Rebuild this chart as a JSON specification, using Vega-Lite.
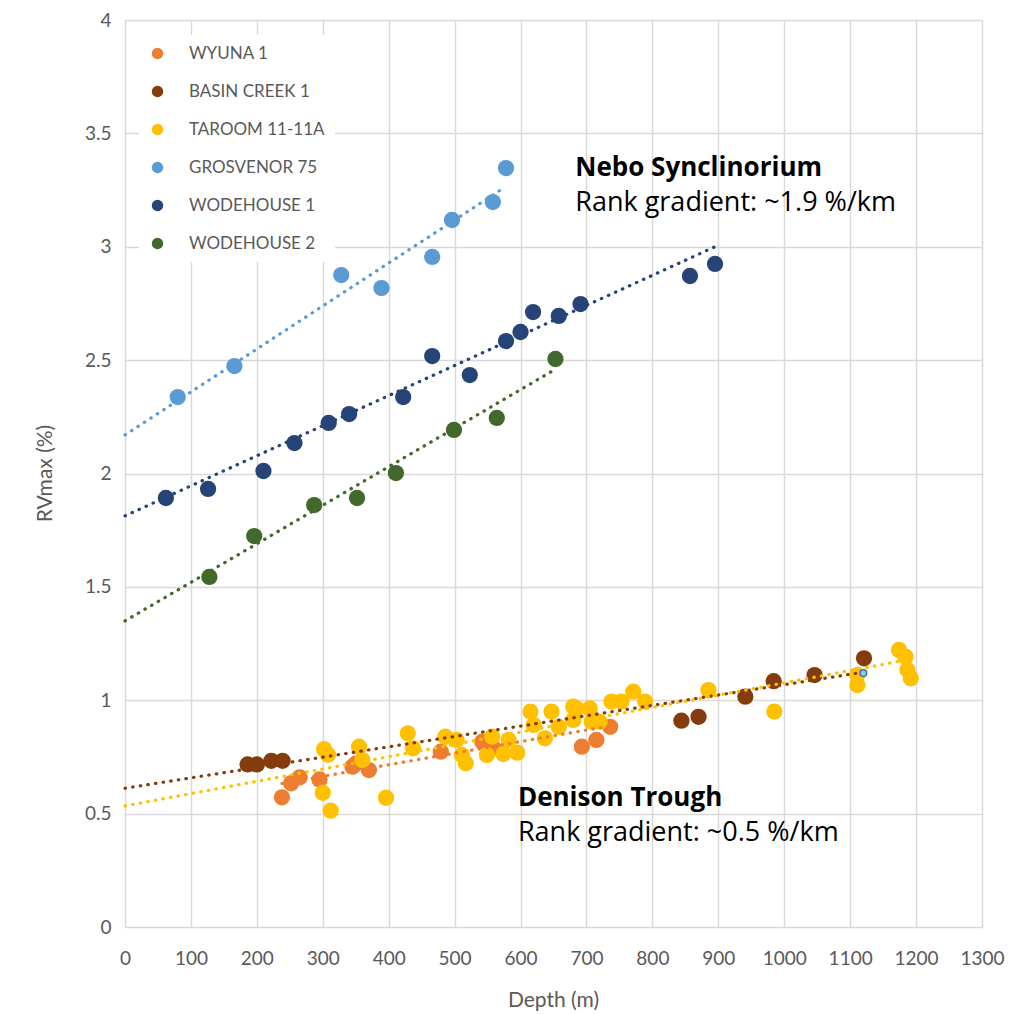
{
  "$schema": "https://vega.github.io/schema/vega-lite/v6.json",
  "width": 857,
  "height": 907,
  "autosize": "none",
  "padding": {"left": 125, "top": 20, "right": 44, "bottom": 87},
  "background": "white",
  "config": {
    "view": {"stroke": null},
    "font": "Lato",
    "axis": {"labelFont": "Lato", "titleFont": "Lato", "labelColor": "#595959", "titleColor": "#595959", "gridColor": "#D9D9D9", "gridWidth": 1.5, "domain": false, "ticks": false, "labelOverlap": false, "labelFlush": false}
  },
  "datasets": {
    "pts": [
      {"series": "WYUNA 1", "depth": 238, "rv": 0.572},
      {"series": "WYUNA 1", "depth": 252, "rv": 0.634},
      {"series": "WYUNA 1", "depth": 265, "rv": 0.66},
      {"series": "WYUNA 1", "depth": 295, "rv": 0.651},
      {"series": "WYUNA 1", "depth": 345, "rv": 0.707},
      {"series": "WYUNA 1", "depth": 350, "rv": 0.72},
      {"series": "WYUNA 1", "depth": 370, "rv": 0.692},
      {"series": "WYUNA 1", "depth": 479, "rv": 0.773},
      {"series": "WYUNA 1", "depth": 542, "rv": 0.817},
      {"series": "WYUNA 1", "depth": 559, "rv": 0.79},
      {"series": "WYUNA 1", "depth": 693, "rv": 0.795},
      {"series": "WYUNA 1", "depth": 715, "rv": 0.825},
      {"series": "WYUNA 1", "depth": 736, "rv": 0.883},
      {"series": "BASIN CREEK 1", "depth": 186, "rv": 0.717},
      {"series": "BASIN CREEK 1", "depth": 200, "rv": 0.717},
      {"series": "BASIN CREEK 1", "depth": 222, "rv": 0.733},
      {"series": "BASIN CREEK 1", "depth": 239, "rv": 0.733},
      {"series": "BASIN CREEK 1", "depth": 844, "rv": 0.91},
      {"series": "BASIN CREEK 1", "depth": 870, "rv": 0.927},
      {"series": "BASIN CREEK 1", "depth": 941, "rv": 1.016},
      {"series": "BASIN CREEK 1", "depth": 984, "rv": 1.084},
      {"series": "BASIN CREEK 1", "depth": 1046, "rv": 1.111},
      {"series": "BASIN CREEK 1", "depth": 1121, "rv": 1.185},
      {"series": "TAROOM 11-11A", "depth": 300, "rv": 0.592},
      {"series": "TAROOM 11-11A", "depth": 302, "rv": 0.784},
      {"series": "TAROOM 11-11A", "depth": 308, "rv": 0.76},
      {"series": "TAROOM 11-11A", "depth": 312, "rv": 0.513},
      {"series": "TAROOM 11-11A", "depth": 355, "rv": 0.795},
      {"series": "TAROOM 11-11A", "depth": 360, "rv": 0.736},
      {"series": "TAROOM 11-11A", "depth": 396, "rv": 0.57},
      {"series": "TAROOM 11-11A", "depth": 429, "rv": 0.854},
      {"series": "TAROOM 11-11A", "depth": 437, "rv": 0.788},
      {"series": "TAROOM 11-11A", "depth": 486, "rv": 0.839},
      {"series": "TAROOM 11-11A", "depth": 503, "rv": 0.825},
      {"series": "TAROOM 11-11A", "depth": 511, "rv": 0.759},
      {"series": "TAROOM 11-11A", "depth": 517, "rv": 0.722},
      {"series": "TAROOM 11-11A", "depth": 549, "rv": 0.759},
      {"series": "TAROOM 11-11A", "depth": 557, "rv": 0.839},
      {"series": "TAROOM 11-11A", "depth": 574, "rv": 0.763},
      {"series": "TAROOM 11-11A", "depth": 582, "rv": 0.825},
      {"series": "TAROOM 11-11A", "depth": 595, "rv": 0.769},
      {"series": "TAROOM 11-11A", "depth": 615, "rv": 0.95},
      {"series": "TAROOM 11-11A", "depth": 620, "rv": 0.891},
      {"series": "TAROOM 11-11A", "depth": 637, "rv": 0.832},
      {"series": "TAROOM 11-11A", "depth": 647, "rv": 0.95},
      {"series": "TAROOM 11-11A", "depth": 658, "rv": 0.883},
      {"series": "TAROOM 11-11A", "depth": 680, "rv": 0.972},
      {"series": "TAROOM 11-11A", "depth": 685, "rv": 0.964},
      {"series": "TAROOM 11-11A", "depth": 680, "rv": 0.913},
      {"series": "TAROOM 11-11A", "depth": 705, "rv": 0.964},
      {"series": "TAROOM 11-11A", "depth": 708, "rv": 0.905},
      {"series": "TAROOM 11-11A", "depth": 720, "rv": 0.905},
      {"series": "TAROOM 11-11A", "depth": 738, "rv": 0.994},
      {"series": "TAROOM 11-11A", "depth": 753, "rv": 0.994},
      {"series": "TAROOM 11-11A", "depth": 771, "rv": 1.038},
      {"series": "TAROOM 11-11A", "depth": 789, "rv": 0.994},
      {"series": "TAROOM 11-11A", "depth": 885, "rv": 1.045},
      {"series": "TAROOM 11-11A", "depth": 985, "rv": 0.95},
      {"series": "TAROOM 11-11A", "depth": 1111, "rv": 1.111},
      {"series": "TAROOM 11-11A", "depth": 1111, "rv": 1.067},
      {"series": "TAROOM 11-11A", "depth": 1174, "rv": 1.222},
      {"series": "TAROOM 11-11A", "depth": 1184, "rv": 1.192},
      {"series": "TAROOM 11-11A", "depth": 1187, "rv": 1.133},
      {"series": "TAROOM 11-11A", "depth": 1192, "rv": 1.097},
      {"series": "GROSVENOR 75", "depth": 80, "rv": 2.337},
      {"series": "GROSVENOR 75", "depth": 166, "rv": 2.474},
      {"series": "GROSVENOR 75", "depth": 328, "rv": 2.875},
      {"series": "GROSVENOR 75", "depth": 389, "rv": 2.818},
      {"series": "GROSVENOR 75", "depth": 466, "rv": 2.955},
      {"series": "GROSVENOR 75", "depth": 496, "rv": 3.118},
      {"series": "GROSVENOR 75", "depth": 558, "rv": 3.197},
      {"series": "GROSVENOR 75", "depth": 578, "rv": 3.347},
      {"series": "WODEHOUSE 1", "depth": 62, "rv": 1.892},
      {"series": "WODEHOUSE 1", "depth": 126, "rv": 1.932},
      {"series": "WODEHOUSE 1", "depth": 210, "rv": 2.011},
      {"series": "WODEHOUSE 1", "depth": 257, "rv": 2.134},
      {"series": "WODEHOUSE 1", "depth": 309, "rv": 2.223},
      {"series": "WODEHOUSE 1", "depth": 340, "rv": 2.262},
      {"series": "WODEHOUSE 1", "depth": 422, "rv": 2.337},
      {"series": "WODEHOUSE 1", "depth": 466, "rv": 2.518},
      {"series": "WODEHOUSE 1", "depth": 523, "rv": 2.434},
      {"series": "WODEHOUSE 1", "depth": 578, "rv": 2.584},
      {"series": "WODEHOUSE 1", "depth": 600, "rv": 2.624},
      {"series": "WODEHOUSE 1", "depth": 619, "rv": 2.712},
      {"series": "WODEHOUSE 1", "depth": 658, "rv": 2.695},
      {"series": "WODEHOUSE 1", "depth": 691, "rv": 2.747},
      {"series": "WODEHOUSE 1", "depth": 857, "rv": 2.871},
      {"series": "WODEHOUSE 1", "depth": 895, "rv": 2.924},
      {"series": "WODEHOUSE 2", "depth": 128, "rv": 1.544},
      {"series": "WODEHOUSE 2", "depth": 196, "rv": 1.724},
      {"series": "WODEHOUSE 2", "depth": 287, "rv": 1.861},
      {"series": "WODEHOUSE 2", "depth": 352, "rv": 1.892},
      {"series": "WODEHOUSE 2", "depth": 411, "rv": 2.002},
      {"series": "WODEHOUSE 2", "depth": 499, "rv": 2.192},
      {"series": "WODEHOUSE 2", "depth": 564, "rv": 2.245},
      {"series": "WODEHOUSE 2", "depth": 653, "rv": 2.505}
    ],
    "trend": [
      {"series": "WYUNA 1", "depth": 238, "rv": 0.633},
      {"series": "WYUNA 1", "depth": 736, "rv": 0.887},
      {"series": "BASIN CREEK 1", "depth": 0, "rv": 0.612},
      {"series": "BASIN CREEK 1", "depth": 1121, "rv": 1.124},
      {"series": "TAROOM 11-11A", "depth": 0, "rv": 0.534},
      {"series": "TAROOM 11-11A", "depth": 1192, "rv": 1.181},
      {"series": "GROSVENOR 75", "depth": 0, "rv": 2.17},
      {"series": "GROSVENOR 75", "depth": 575, "rv": 3.26},
      {"series": "WODEHOUSE 1", "depth": 0, "rv": 1.813},
      {"series": "WODEHOUSE 1", "depth": 895, "rv": 3.0},
      {"series": "WODEHOUSE 2", "depth": 0, "rv": 1.35},
      {"series": "WODEHOUSE 2", "depth": 653, "rv": 2.46}
    ],
    "marker": [
      {"depth": 1120, "rv": 1.12}
    ]
  },
  "layer": [
    {
      "data": {"name": "pts"},
      "mark": {"type": "circle", "size": 265, "opacity": 1},
      "encoding": {
        "x": {"field": "depth", "type": "quantitative", "scale": {"domain": [0, 1300], "nice": false}, "axis": {"values": [0,100,200,300,400,500,600,700,800,900,1000,1100,1200,1300], "format": "d", "labelFontSize": 19, "labelPadding": 22, "title": "Depth (m)", "titleFontSize": 21, "titleFontWeight": "normal", "titleX": 428, "titleY": 73, "titleBaseline": "middle"}},
        "y": {"field": "rv", "type": "quantitative", "scale": {"domain": [0, 4], "nice": false}, "axis": {"values": [0,0.5,1,1.5,2,2.5,3,3.5,4], "format": "~g", "labelFontSize": 19, "labelPadding": 14, "title": "RVmax (%)", "titleFontSize": 21, "titleFontWeight": "normal", "titleX": -80, "titleY": 453, "titleBaseline": "middle"}},
        "color": {"field": "series", "type": "nominal", "sort": null,
          "scale": {"domain": ["WYUNA 1", "BASIN CREEK 1", "TAROOM 11-11A", "GROSVENOR 75", "WODEHOUSE 1", "WODEHOUSE 2"], "range": ["#ED7D31", "#843C0C", "#FFC000", "#5B9BD5", "#264478", "#43682B"]},
          "legend": {"title": null, "orient": "none", "legendX": 14, "legendY": 15, "fillColor": "white", "padding": 10, "labelFont": "Lato", "labelFontSize": 17, "labelColor": "#595959", "symbolType": "circle", "symbolSize": 130, "labelOffset": 23, "rowPadding": 20, "symbolStrokeWidth": 0}}
      }
    },
    {
      "data": {"name": "trend"},
      "mark": {"type": "line", "strokeWidth": 3.2, "strokeDash": [0.5, 7.2], "strokeCap": "round"},
      "encoding": {
        "x": {"field": "depth", "type": "quantitative"},
        "y": {"field": "rv", "type": "quantitative"},
        "detail": {"field": "series", "type": "nominal"},
        "stroke": {"field": "series", "type": "nominal", "legend": null,
          "scale": {"domain": ["WYUNA 1", "BASIN CREEK 1", "TAROOM 11-11A", "GROSVENOR 75", "WODEHOUSE 1", "WODEHOUSE 2"], "range": ["#ED7D31", "#843C0C", "#FFC000", "#5B9BD5", "#264478", "#43682B"]}}
      }
    },
    {
      "data": {"name": "marker"},
      "mark": {"type": "point", "filled": true, "size": 45, "fill": "#9DC3E6", "stroke": "#2E75B6", "strokeWidth": 1.5, "opacity": 1},
      "encoding": {
        "x": {"field": "depth", "type": "quantitative"},
        "y": {"field": "rv", "type": "quantitative"}
      }
    },
    {
      "data": {"values": [{}]},
      "mark": {"type": "text", "align": "left", "baseline": "middle", "font": "Open Sans", "fontSize": 26, "fontWeight": "bold", "color": "black"},
      "encoding": {"x": {"datum": 683}, "y": {"datum": 3.347}, "text": {"value": "Nebo Synclinorium"}}
    },
    {
      "data": {"values": [{}]},
      "mark": {"type": "text", "align": "left", "baseline": "middle", "font": "Open Sans", "fontSize": 27, "color": "black"},
      "encoding": {"x": {"datum": 683}, "y": {"datum": 3.193}, "text": {"value": "Rank gradient: ~1.9 %/km"}}
    },
    {
      "data": {"values": [{}]},
      "mark": {"type": "text", "align": "left", "baseline": "middle", "font": "Open Sans", "fontSize": 26, "fontWeight": "bold", "color": "black"},
      "encoding": {"x": {"datum": 596}, "y": {"datum": 0.569}, "text": {"value": "Denison Trough"}}
    },
    {
      "data": {"values": [{}]},
      "mark": {"type": "text", "align": "left", "baseline": "middle", "font": "Open Sans", "fontSize": 27, "color": "black"},
      "encoding": {"x": {"datum": 596}, "y": {"datum": 0.415}, "text": {"value": "Rank gradient:  ~0.5 %/km"}}
    }
  ]
}
